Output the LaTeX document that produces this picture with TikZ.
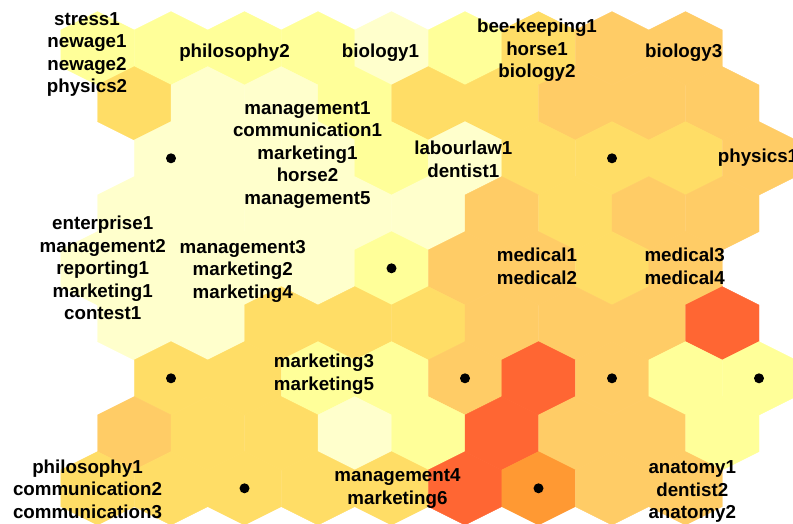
\documentclass[tikz,border=0pt]{standalone}
\usepackage{fontspec}
\setmainfont{Liberation Sans}
\definecolor{pale}{HTML}{FFFFCC}
\definecolor{yell}{HTML}{FFFF99}
\definecolor{gold}{HTML}{FFDD66}
\definecolor{lor}{HTML}{FFCC66}
\definecolor{org}{HTML}{FF9933}
\definecolor{hred}{HTML}{FF6633}
\tikzset{
  somlabel/.style={font=\bfseries\fontsize{18.75}{22.5}\selectfont, align=center, inner sep=0pt},
  somdot/.style={circle, fill=black, inner sep=0pt, minimum size=10pt},
  hexcell/.style={fill=#1, draw=#1, line width=0.3pt}
}
\begin{document}
\begin{tikzpicture}[x=1pt,y=-1pt]
\useasboundingbox (0,0) rectangle (793,523);
\clip (0,0) rectangle (793,523);
\fill[white] (0,0) rectangle (793,523);
% hexagonal cells, row by row
\foreach \r/\lst in {
  0/{yell,yell,yell,yell,pale,yell,gold,lor,lor,none},
  1/{none,gold,pale,pale,yell,gold,gold,lor,lor,lor},
  2/{none,pale,pale,pale,yell,pale,gold,gold,gold,lor},
  3/{none,pale,pale,pale,pale,pale,lor,gold,lor,lor},
  4/{pale,pale,pale,pale,yell,lor,lor,gold,lor,none},
  5/{none,pale,pale,gold,gold,gold,lor,lor,lor,hred},
  6/{none,gold,gold,yell,yell,lor,hred,lor,yell,yell},
  7/{none,lor,gold,gold,pale,yell,hred,lor,lor,yell},
  8/{gold,gold,gold,gold,gold,hred,org,lor,lor,none}} {
  \foreach \cc [count=\ci from 0] in \lst {
    \pgfmathsetmacro\hx{97.5-36.75*mod(\r,2)+73.5*\ci}
    \pgfmathsetmacro\hy{48.3+55*\r}
    \path[hexcell=\cc] (\hx,\hy) +(0,-36.7) -- +(36.75,-18.35) -- +(36.75,18.35)
      -- +(0,36.7) -- +(-36.75,18.35) -- +(-36.75,-18.35) -- cycle;
  }
}
% dots
\node[somdot] (d1) at (171,158.3) {};
\node[somdot] (d2) at (612,158.3) {};
\node[somdot] (d3) at (391.5,268.3) {};
\node[somdot] (d4) at (171,378.3) {};
\node[somdot] (d5) at (465,378.3) {};
\node[somdot] (d6) at (612,378.3) {};
\node[somdot] (d7) at (759,378.3) {};
\node[somdot] (d8) at (244.5,488.3) {};
\node[somdot] (d9) at (538.5,488.3) {};
% labels
\node[somlabel] (lA) at (87,54.5) {\strut stress1\\\strut newage1\\\strut newage2\\\strut physics2};
\node[somlabel] (lB) at (234.5,52.8) {\strut philosophy2};
\node[somlabel] (lC) at (380.5,52.8) {\strut biology1};
\node[somlabel] (lD) at (537,50.5) {\strut bee-keeping1\\\strut horse1\\\strut biology2};
\node[somlabel] (lE) at (683.7,52.8) {\strut biology3};
\node[somlabel] (lF) at (307.5,154.8) {\strut management1\\\strut communication1\\\strut marketing1\\\strut horse2\\\strut management5};
\node[somlabel] (lG) at (463.3,161.5) {\strut labourlaw1\\\strut dentist1};
\node[somlabel] (lH) at (758,158.2) {\strut physics1};
\node[somlabel] (lI) at (102.7,270.2) {\strut enterprise1\\\strut management2\\\strut reporting1\\\strut marketing1\\\strut contest1};
\node[somlabel] (lJ) at (242.7,271) {\strut management3\\\strut marketing2\\\strut marketing4};
\node[somlabel] (lK) at (537,268.7) {\strut medical1\\\strut medical2};
\node[somlabel] (lL) at (684.7,268.7) {\strut medical3\\\strut medical4};
\node[somlabel] (lM) at (324,374.3) {\strut marketing3\\\strut marketing5};
\node[somlabel] (lN) at (87.5,491.3) {\strut philosophy1\\\strut communication2\\\strut communication3};
\node[somlabel] (lO) at (397.5,488.5) {\strut management4\\\strut marketing6};
\node[somlabel] (lP) at (692.3,491.5) {\strut anatomy1\\\strut dentist2\\\strut anatomy2};
\end{tikzpicture}
\end{document}
